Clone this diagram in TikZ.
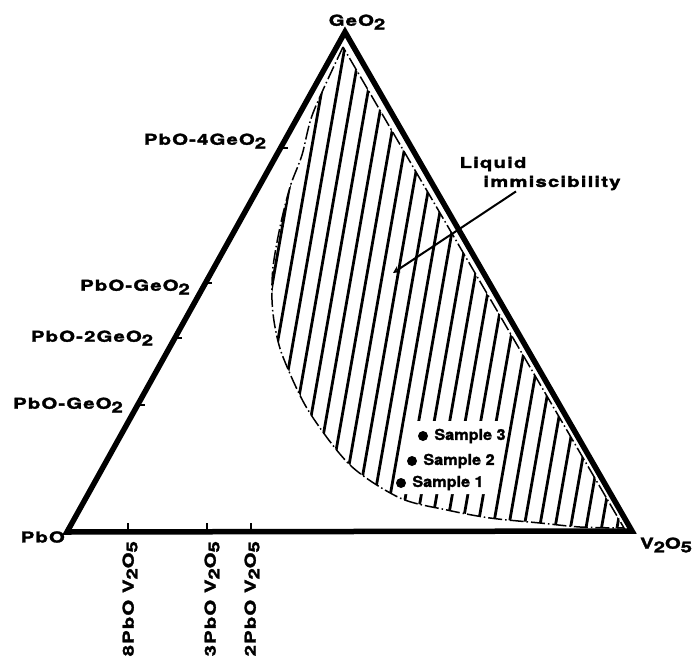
\documentclass[tikz,border=0pt]{standalone}
\usepackage{fontspec}
\usepackage{graphicx}
\newfontfamily\labfont{TeX Gyre Heros}[FakeStretch=1.35,LetterSpace=8,FakeBold=2]
\newfontfamily\sampfont{TeX Gyre Heros}[FakeStretch=1.08,FakeBold=1.5]
\usetikzlibrary{positioning, arrows, calc}
\newcommand{\low}[1]{\raisebox{-0.45ex}{#1}}
\tikzstyle{lab} = [inner sep=1pt, font=\labfont\bfseries\fontsize{15}{18}\selectfont]
\tikzstyle{blab} = [lab, rotate=90, anchor=east]
\tikzstyle{samp} = [inner sep=1pt, font=\sampfont\bfseries\fontsize{15}{18}\selectfont]
\tikzstyle{dot} = [circle, fill=black, inner sep=0pt, minimum size=10pt]
\tikzstyle{edge} = [line width=5.5pt, line join=miter]
\tikzstyle{tick} = [line width=2pt]
\tikzstyle{hatch} = [line width=2.8pt]
\tikzstyle{bound} = [line width=1.5pt, dash pattern=on 14pt off 3pt on 1.5pt off 3pt]
\tikzstyle{arrow} = [line width=2pt,->,>=stealth]

\begin{document}
\begin{tikzpicture}[x=1pt, y=-1pt]
    \useasboundingbox (0,0) rectangle (695,666);
    \coordinate (geo) at (345,32);
    \coordinate (pbo) at (67,532);
    \coordinate (vo) at (632,531);

    \begin{scope}
        \clip plot[smooth] coordinates {(343,47) (313,113) (302,155) (290,187) (280,227) (273,267) (272,300) (275,327) (283,357) (308,410) (350,465) (400,498) (447,510) (490,518) (540,523) (580,527) (624,528)} -- cycle;
        \foreach \x in {180,195.5,...,650}
            \draw [hatch] (\x,545) -- ++(100,-570);
    \end{scope}
    \fill [white] (405,421) -- (503,421) -- (497,494) -- (398,494) -- cycle;
    \draw [bound] plot[smooth] coordinates {(343,47) (313,113) (302,155) (290,187) (280,227) (273,267) (272,300) (275,327) (283,357) (308,410) (350,465) (400,498) (447,510) (490,518) (540,523) (580,527) (624,528)} -- cycle;

    \draw [edge] (pbo) -- (geo) -- (vo) -- cycle;
    \foreach \t in {0.768,0.498,0.388,0.254}
        \draw [tick] ($(pbo)!\t!(geo)$) -- ++(7,0);
    \foreach \x in {128,207,251}
        \draw [tick] (\x,531) -- ++(0,-8);

    \node (geolab) [lab] at (357,22) {GeO\low{2}};
    \node (pbolab) [lab, anchor=east] at (66,537) {PbO};
    \node (volab) [lab, anchor=west] at (639,545) {V\low{2}O\low{5}};
    \node (pg4) [lab] at (205,141) {PbO-4GeO\low{2}};
    \node (pg1) [lab] at (135,287) {PbO-GeO\low{2}};
    \node (pg2) [lab] at (92,338) {PbO-2GeO\low{2}};
    \node (pg3) [lab] at (68,405) {PbO-GeO\low{2}};
    \node (pv8) [blab] at (130,540) {8PbO V\low{2}O\low{5}};
    \node (pv3) [blab] at (212,540) {3PbO V\low{2}O\low{5}};
    \node (pv2) [blab] at (252,540) {2PbO V\low{2}O\low{5}};

    \node (liq1) [lab] at (493,164) {Liquid};
    \node (liq2) [lab] at (552,183) {immiscibility};
    \coordinate (tip) at (393,273);
    \draw [arrow] ([xshift=-36pt]liq2.south) -- (tip);

    \node (d3) [dot] at (423,436) {};
    \node (d2) [dot] at (412,461) {};
    \node (d1) [dot] at (401,483) {};
    \node (s3) [samp, right=5pt of d3] {Sample 3};
    \node (s2) [samp, right=5pt of d2] {Sample 2};
    \node (s1) [samp, right=5pt of d1] {Sample 1};
\end{tikzpicture}
\end{document}
